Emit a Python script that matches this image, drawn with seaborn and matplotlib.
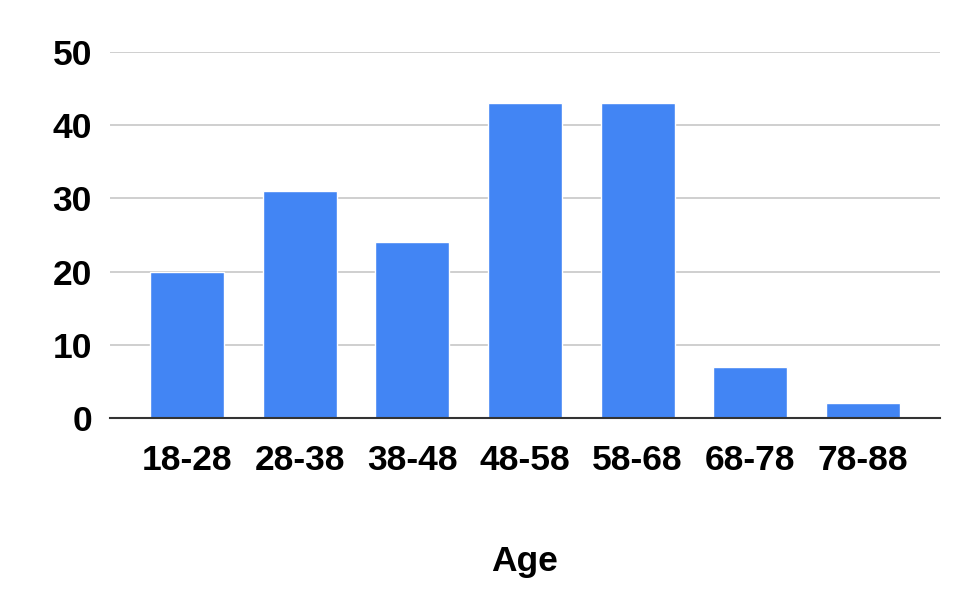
import matplotlib
matplotlib.use("Agg")
import matplotlib.pyplot as plt
import seaborn as sns
import pandas as pd

categories = ["18-28", "28-38", "38-48", "48-58", "58-68", "68-78", "78-88"]
counts = [20, 31, 24, 43, 43, 7, 2]
y_ticks = [0, 10, 20, 30, 40, 50]

sns.set_theme(style="white")
plt.rcParams['font.family'] = ['Liberation Sans', 'DejaVu Sans']

df = pd.DataFrame({"Age": categories, "Count": counts})

fig = plt.figure(figsize=(9.7, 6.12), dpi=100)
ax = fig.add_axes([0.1134, 0.317, 0.969 - 0.1134, 0.915 - 0.317])

sns.barplot(data=df, x="Age", y="Count", color="#4285F4", saturation=1,
            width=0.657, ax=ax, zorder=3)

ax.set_ylim(0, 50)
ax.set_xlim(-0.683, 6.683)
ax.set_yticks(y_ticks)
ax.yaxis.grid(True, color="#cccccc", linewidth=1.3, zorder=0)
ax.xaxis.grid(False)
for s in ["top", "right", "left"]:
    ax.spines[s].set_visible(False)
ax.spines["bottom"].set_color("#333333")
ax.spines["bottom"].set_linewidth(1.5)
ax.spines["bottom"].set_zorder(4)

ax.tick_params(axis="both", length=0, labelsize=25.5)
ax.tick_params(axis="y", pad=13)
ax.tick_params(axis="x", pad=19)
for lbl in ax.get_xticklabels() + ax.get_yticklabels():
    lbl.set_fontweight("bold")
    lbl.set_color("#000000")

ax.set_ylabel("")
ax.set_xlabel("Age", fontsize=25.5, fontweight="bold", labelpad=49, color="#000000")

fig.savefig("out.png", dpi=100, facecolor="white")
